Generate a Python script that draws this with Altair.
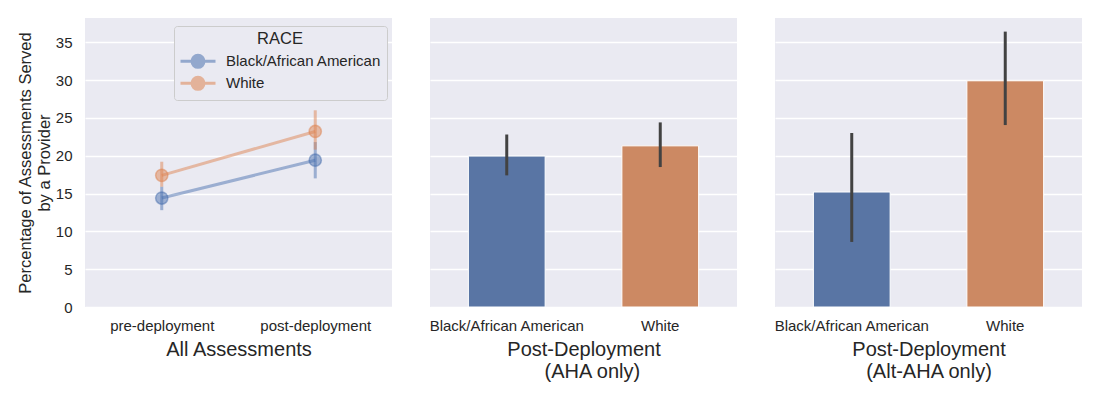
import altair as alt
import pandas as pd

# ---------------- data ----------------
races = ["Black/African American", "White"]
phases = ["pre-deployment", "post-deployment"]

# Panel 1: all assessments (point plot, mean with CI) per phase
black_all_mean = [14.4, 19.4]
black_all_lo = [12.8, 17.0]
black_all_hi = [15.9, 21.8]
white_all_mean = [17.4, 23.2]
white_all_lo = [15.9, 20.8]
white_all_hi = [19.2, 26.0]

# Panel 2: post-deployment, AHA only (bar, mean with CI) per race
aha_mean = [19.95, 21.3]
aha_lo = [17.4, 18.5]
aha_hi = [22.8, 24.4]

# Panel 3: post-deployment, Alt-AHA only
alt_mean = [15.2, 29.9]
alt_lo = [8.6, 24.05]
alt_hi = [23.0, 36.4]

y_ticks = [0, 5, 10, 15, 20, 25, 30, 35]

# ---------------- tables ----------------
rows = []
for race, m, lo, hi in [
    (races[0], black_all_mean, black_all_lo, black_all_hi),
    (races[1], white_all_mean, white_all_lo, white_all_hi),
]:
    for i, ph in enumerate(phases):
        rows.append({"race": race, "phase": ph, "mean": m[i], "lo": lo[i], "hi": hi[i]})
df_all = pd.DataFrame(rows)
df_aha = pd.DataFrame({"race": races, "mean": aha_mean, "lo": aha_lo, "hi": aha_hi})
df_alt = pd.DataFrame({"race": races, "mean": alt_mean, "lo": alt_lo, "hi": alt_hi})

# ---------------- styling ----------------
FONT = "Liberation Sans"
TXT = "#262626"
BG = "#EAEAF2"
W, H = 307, 289

yscale = alt.Scale(domain=[0, 38.2], nice=False, zero=True)
line_colors = alt.Scale(domain=races, range=["#4C72B0", "#DD8452"])
bar_colors = alt.Scale(domain=races, range=["#5975A4", "#CC8963"])

# legend glyph: a short line with a circle on it (unit = 9 px)
sym_path = ("M-1,0L2.89,0M0.277,0A0.667,0.667,0,1,1,1.611,0"
            "A0.667,0.667,0,1,1,0.277,0Z")
legend = alt.Legend(
    title="RACE",
    orient="none",
    legendX=89,
    legendY=8,
    symbolType=sym_path,
    symbolSize=324,
    symbolStrokeWidth=3,
    symbolOpacity=0.55,
    titleFontSize=16.5,
    titleFontWeight="normal",
    titleFont=FONT,
    titleColor=TXT,
    titleAnchor="middle",
    titlePadding=3,
    labelFont=FONT,
    labelFontSize=15,
    labelColor=TXT,
    labelOffset=26,
    rowPadding=0,
    clipHeight=21.7,
    fillColor=BG,
    strokeColor="#CCCCCC",
    padding=5,
    cornerRadius=3,
)

yaxis_main = alt.Axis(
    title=["Percentage of Assessments Served", "by a Provider"],
    values=y_ticks,
)
yaxis_plain = alt.Axis(values=y_ticks, labels=False, title=None)

# ---------------- panel 1 ----------------
x1 = alt.X(
    "phase:N",
    sort=phases,
    scale=alt.Scale(type="point", domain=phases, padding=0.5),
    axis=alt.Axis(title="All Assessments", labelAngle=0),
)
base1 = alt.Chart(df_all)
stroke1 = alt.Stroke("race:N", scale=line_colors, legend=legend, sort=races)
fill1 = alt.Fill("race:N", scale=line_colors, legend=legend, sort=races)
line1 = base1.mark_line(strokeWidth=3, opacity=0.5).encode(
    x=x1, y=alt.Y("mean:Q", scale=yscale, axis=yaxis_main), stroke=stroke1
)
err1 = base1.mark_rule(strokeWidth=3, opacity=0.5).encode(
    x=x1, y=alt.Y("lo:Q", scale=yscale), y2="hi:Q", stroke=stroke1
)
pts1 = base1.mark_point(
    filled=True, size=150, fillOpacity=0.5, strokeOpacity=0.5, strokeWidth=1.5
).encode(
    x=x1,
    y=alt.Y("mean:Q", scale=yscale),
    fill=fill1,
    stroke=stroke1,
)
panel1 = alt.layer(line1, err1, pts1).properties(width=W, height=H)


# ---------------- bar panels ----------------
def bar_panel(df, title):
    x = alt.X(
        "race:N",
        sort=races,
        scale=alt.Scale(domain=races, paddingInner=0.5, paddingOuter=0.25),
        axis=alt.Axis(title=title, labelAngle=0),
    )
    base = alt.Chart(df)
    bars = base.mark_bar(stroke="white", strokeWidth=1).encode(
        x=x,
        y=alt.Y("mean:Q", scale=yscale, axis=yaxis_plain),
        color=alt.Color("race:N", scale=bar_colors, legend=None),
    )
    err = base.mark_rule(color="#424242", strokeWidth=3).encode(
        x=x, y=alt.Y("lo:Q", scale=yscale), y2="hi:Q"
    )
    return alt.layer(bars, err).properties(width=W, height=H)


panel2 = bar_panel(df_aha, ["Post-Deployment", "\u200b\u00a0\u00a0\u00a0(AHA only)"])
panel3 = bar_panel(df_alt, ["Post-Deployment", "(Alt-AHA only)"])

chart = (
    alt.hconcat(panel1, panel2, panel3, spacing=36)
    .resolve_scale(x="independent", color="independent", stroke="independent", fill="independent")
    .properties(padding={"left": 9, "top": 10, "right": 5, "bottom": 5})
    .configure(font=FONT, background="white")
    .configure_view(fill=BG, stroke=None)
    .configure_axis(
        grid=True,
        gridColor="white",
        gridWidth=1.3,
        domain=False,
        ticks=False,
        labelFont=FONT,
        labelFontSize=15,
        labelColor=TXT,
        titleFont=FONT,
        titleColor=TXT,
        titleFontWeight="normal",
    )
    .configure_axisX(grid=False, labelPadding=11, titleFontSize=20, titlePadding=6, titleLineHeight=22)
    .configure_axisY(labelPadding=13, titleFontSize=16.5, titlePadding=3, titleLineHeight=19)
)

chart.save("out.html", embed_options={"renderer": "svg", "actions": False})
